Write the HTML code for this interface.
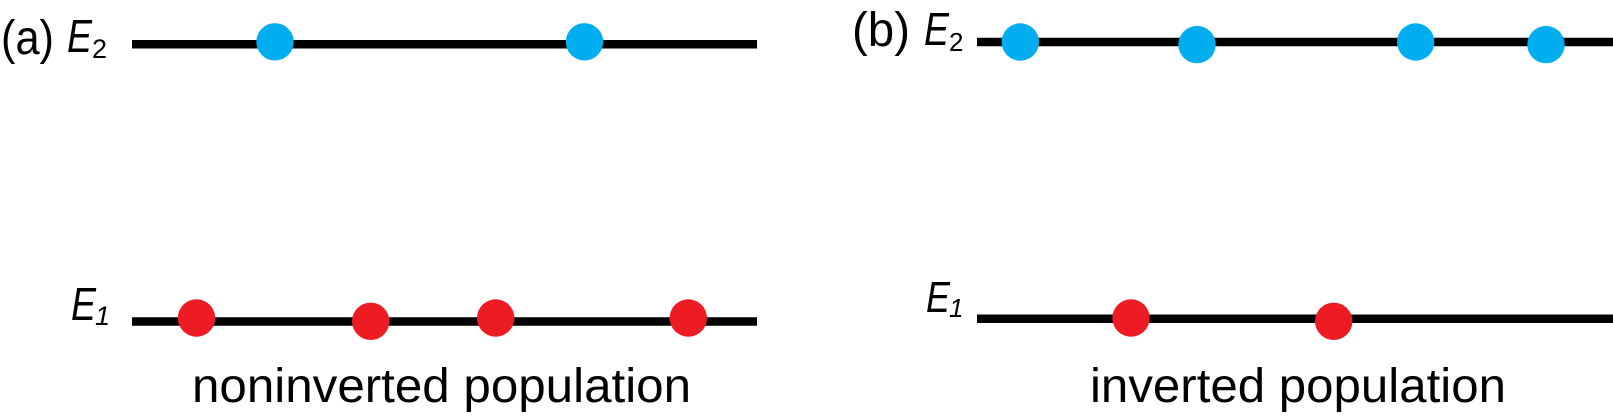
<!DOCTYPE html>
<html>
<head>
<meta charset="utf-8">
<style>
  html, body { margin: 0; padding: 0; background: #ffffff; }
  body { width: 1613px; height: 417px; overflow: hidden; }
  svg { display: block; }
  text { font-family: "Liberation Sans", sans-serif; fill: #000; }
</style>
</head>
<body>
<svg width="1613" height="417" viewBox="0 0 1613 417" xmlns="http://www.w3.org/2000/svg">
  <rect x="0" y="0" width="1613" height="417" fill="#ffffff"/>

  <!-- Panel (a) -->
  <text x="1" y="54" font-size="48" textLength="53" lengthAdjust="spacingAndGlyphs">(a)</text>
  <text x="67" y="52" font-size="46" font-style="italic" textLength="25" lengthAdjust="spacingAndGlyphs">E</text>
  <text x="92" y="58" font-size="27">2</text>

  <line x1="132" y1="44.3" x2="757" y2="44.3" stroke="#000" stroke-width="8.5"/>
  <circle cx="275" cy="41.8" r="18.7" fill="#00AEEF"/>
  <circle cx="584.5" cy="41.8" r="18.7" fill="#00AEEF"/>

  <text x="71" y="320" font-size="46" font-style="italic" textLength="25" lengthAdjust="spacingAndGlyphs">E</text>
  <text x="95" y="325" font-size="27" font-style="italic">1</text>

  <line x1="132" y1="321.5" x2="757" y2="321.5" stroke="#000" stroke-width="8.5"/>
  <circle cx="196.5" cy="318" r="18.7" fill="#ED1C24"/>
  <circle cx="370.7" cy="321.3" r="18.7" fill="#ED1C24"/>
  <circle cx="495.7" cy="318" r="18.7" fill="#ED1C24"/>
  <circle cx="688.3" cy="318" r="18.7" fill="#ED1C24"/>

  <text x="192" y="402" font-size="48" textLength="499" lengthAdjust="spacingAndGlyphs">noninverted population</text>

  <!-- Panel (b) -->
  <text x="852" y="46" font-size="48" textLength="58" lengthAdjust="spacingAndGlyphs">(b)</text>
  <text x="924" y="45" font-size="46" font-style="italic" textLength="25" lengthAdjust="spacingAndGlyphs">E</text>
  <text x="949" y="51" font-size="26">2</text>

  <line x1="977" y1="42" x2="1613" y2="42" stroke="#000" stroke-width="8.5"/>
  <circle cx="1020.3" cy="42" r="18.7" fill="#00AEEF"/>
  <circle cx="1197" cy="44.6" r="18.7" fill="#00AEEF"/>
  <circle cx="1415.7" cy="42" r="18.7" fill="#00AEEF"/>
  <circle cx="1546" cy="44.6" r="18.7" fill="#00AEEF"/>

  <text x="926" y="312" font-size="44" font-style="italic" textLength="24" lengthAdjust="spacingAndGlyphs">E</text>
  <text x="949" y="317" font-size="26" font-style="italic">1</text>

  <line x1="977" y1="318.8" x2="1613" y2="318.8" stroke="#000" stroke-width="8.5"/>
  <circle cx="1131" cy="318" r="18.7" fill="#ED1C24"/>
  <circle cx="1333.7" cy="321.3" r="18.7" fill="#ED1C24"/>

  <text x="1090" y="402" font-size="48" textLength="416" lengthAdjust="spacingAndGlyphs">inverted population</text>
</svg>
</body>
</html>
